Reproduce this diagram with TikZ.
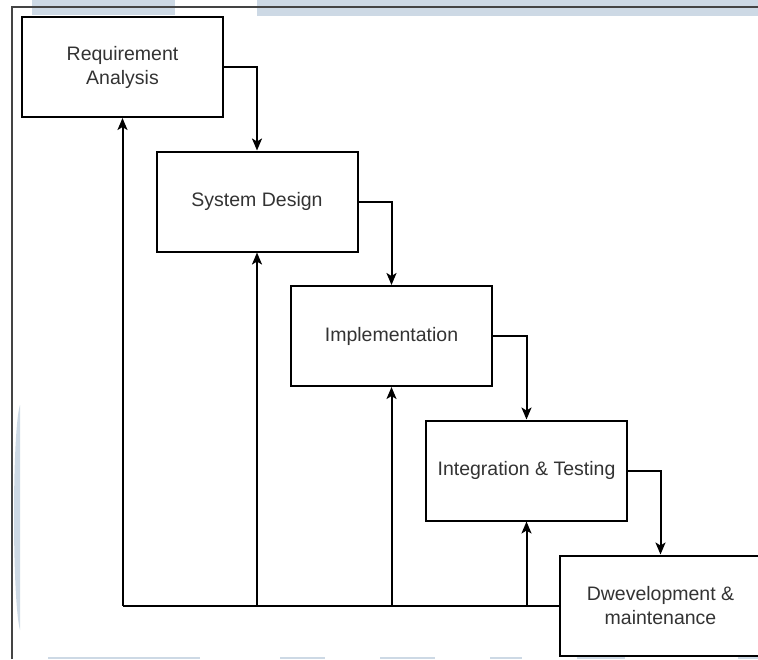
\documentclass[tikz,border=0pt]{standalone}
\usepackage{fontspec}
\setmainfont{Liberation Sans}
\usetikzlibrary{arrows.meta}
\definecolor{wm}{HTML}{CDD9E5}
\definecolor{txt}{HTML}{333333}
\definecolor{frame}{HTML}{444444}
\tikzset{
  stage/.style={draw=black, line width=2pt, fill=white, rectangle,
    minimum width=201pt, minimum height=100pt, inner sep=0pt,
    align=center, text=txt, font=\fontsize{19.5}{24}\selectfont},
  flow/.style={draw=black, line width=2pt, -{Stealth[length=12pt,width=10pt,inset=3pt]}},
  plain/.style={draw=black, line width=2pt},
}
\begin{document}
\begin{tikzpicture}[x=1pt,y=-1pt]
\useasboundingbox (0,0) rectangle (758,659);
\fill[white] (0,0) rectangle (758,659);
% faint watermark pieces
\fill[wm] (32,0) rectangle (175,15);
\fill[wm] (257,0) rectangle (758,16);
\fill[wm] (20,405) .. controls (12,430) and (12,600) .. (20,630) -- cycle;
\fill[wm] (48,657) rectangle (200,659);
\fill[wm] (280,657) rectangle (325,659);
\fill[wm] (380,657) rectangle (435,659);
\fill[wm] (490,657) rectangle (522,659);
\fill[wm] (577,657) rectangle (625,659);
\fill[wm] (738,657) rectangle (758,659);
% outer frame
\draw[frame, line width=1.5pt] (12,659) -- (12,7) -- (758,7);
% stages
\node[stage] (ra)  at (122.5,67)   {Requirement\\Analysis};
\node[stage] (sd)  at (257,201.5)  {System Design};
\node[stage] (im)  at (391.5,336)  {Implementation};
\node[stage] (it)  at (526.5,470.5){Integration \& Testing};
\node[stage] (dv)  at (660.5,605.5){Dwevelopment \&\\maintenance};
% forward flow
\draw[flow] (ra.east) -| (sd.north);
\draw[flow] (sd.east) -| (im.north);
\draw[flow] (im.east) -| (it.north);
\draw[flow] (it.east) -| (dv.north);
% feedback
\coordinate (bl) at (ra.south |- dv.west);
\draw[plain] (dv.west) -- (bl);
\draw[flow] (bl) -- (ra.south);
\draw[flow] (sd.south |- dv.west) -- (sd.south);
\draw[flow] (im.south |- dv.west) -- (im.south);
\draw[flow] (it.south |- dv.west) -- (it.south);
\end{tikzpicture}
\end{document}
